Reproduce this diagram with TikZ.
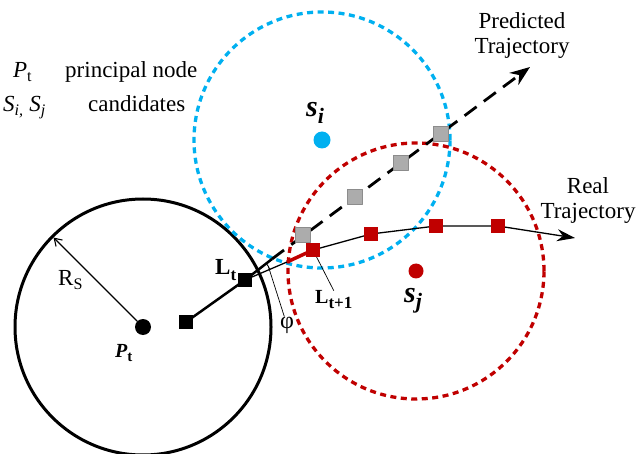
\documentclass[tikz,border=0pt]{standalone}
\usepackage{fontspec}
\setmainfont{Liberation Serif}
\usetikzlibrary{arrows.meta,calc,backgrounds}

\definecolor{candblue}{RGB}{0,176,240}
\definecolor{candred}{RGB}{192,0,0}
\newcommand\lowsub[2]{\raisebox{-0.22em}{\fontsize{#1}{#1}\selectfont #2}}

\begin{document}
\begin{tikzpicture}[x=1pt, y=-1pt, line join=round,
  txt/.style={inner sep=0pt, font=\fontsize{23}{25}\selectfont},
  possq/.style={rectangle, inner sep=0pt, minimum size=14pt},
  graysq/.style={possq, fill=gray!65, draw=gray!90, line width=0.6pt, minimum size=15pt},
  dotnode/.style={circle, inner sep=0pt, minimum size=16pt},
  rangecirc/.style={line width=3.3pt, dash pattern=on 6pt off 4.5pt}]
  \useasboundingbox (0,0) rectangle (637,454);

  % nodes: principal node and candidates
  \node[dotnode, fill=black] (Pt) at (143,327) {};
  \node[dotnode, fill=candblue, minimum size=17pt] (Si) at (322,140) {};
  \node[dotnode, fill=candred, minimum size=15pt] (Sj) at (416,271) {};

  % target positions
  \node[possq, fill=black] (L0) at (186,322) {};
  \node[possq, fill=black] (Lt) at (245,280) {};
  \node[graysq] (G1) at (303,235) {};
  \node[graysq] (G2) at (355,197) {};
  \node[graysq] (G3) at (401,163) {};
  \node[graysq] (G4) at (441,134) {};
  \node[possq, fill=candred] (R1) at (313,250) {};
  \node[possq, fill=candred] (R2) at (371,234) {};
  \node[possq, fill=candred] (R3) at (436,226) {};
  \node[possq, fill=candred] (R4) at (498,226) {};
  \coordinate (V) at (272,259);
  \coordinate (R0) at (287,262);
  \coordinate (PE) at (530,67);
  \coordinate (RE) at (575,238);
  \coordinate (phiarc) at ($(Lt.center)+(30:27pt)$);

  % labels
  \node[txt, anchor=base west] (legP) at (13,78) {\textit{P}\textsubscript{t}};
  \node[txt, anchor=base west] (legPtxt) at (65,78) {principal node};
  \node[txt, anchor=base west] (legS) at (3,112) {\textit{S}\textsubscript{\textit{i,}} \textit{S}\textsubscript{\textit{j}}};
  \node[txt, anchor=base west] (legStxt) at (88,112) {candidates};
  \node[txt, anchor=north, align=center] (pred) at (522,12) {Predicted\\Trajectory};
  \node[txt, anchor=north, align=center] (real) at (588,177) {Real\\Trajectory};
  \node[txt, anchor=base west, font=\fontsize{23}{25}\selectfont\bfseries] (Ltl) at (215,275) {L\lowsub{17}{t}};
  \node[txt, anchor=base west, font=\fontsize{20}{22}\selectfont\bfseries] (Lt1l) at (315,304) {L\lowsub{17}{t+1}};
  \node[txt, anchor=base west, font=\fontsize{20}{22}\selectfont\bfseries\itshape] (Ptl) at (115,357) {P\lowsub{15}{\upshape t}};
  \node[txt, anchor=base west] (Rsl) at (58,286) {R\textsubscript{S}};
  \node[txt, anchor=base west, font=\fontsize{30}{32}\selectfont\bfseries\itshape] (Sil) at (306,117) {s\lowsub{22}{i}};
  \node[txt, anchor=base west, font=\fontsize{30}{32}\selectfont\bfseries\itshape] (Sjl) at (404,302) {s\lowsub{22}{j}};
  \node[txt, font=\fontsize{24}{26}\selectfont] (phi) at (287,325) {φ};

  \begin{scope}[on background layer]
    % sensing ranges
    \draw[line width=3pt] (Pt.center) circle[radius=128pt];
    \draw[rangecirc, candblue] (Si.center) circle[radius=128pt];
    \draw[rangecirc, candred] (Sj.center) circle[radius=128pt];
    \draw[line width=1.1pt, -{Straight Barb[length=7pt,width=9pt]}] (Pt) -- ($(Pt.center)+(135:126.5pt)$);
    % predicted trajectory
    \draw[line width=2.5pt] (L0.center) -- (Lt.center) -- (V);
    \draw[line width=2.8pt, dash pattern=on 15pt off 9pt, -{Stealth[length=20pt,width=15pt]}] (V) -- (PE);
    % real trajectory
    \draw[line width=1.3pt] (Lt.center) -- (R0);
    \draw[line width=3.5pt, candred] (R0) -- (R1.center);
    \draw[line width=1.3pt, -{Stealth[length=18pt,width=12pt]}] (R1.center) -- (R2.center) -- (R3.center) -- (R4.center) -- (RE);
    % angle and leaders
    \draw[line width=0.8pt] ($(Lt.center)+(23:27pt)$) arc[start angle=23, end angle=37, radius=27pt];
    \draw[line width=0.7pt] (phiarc) -- (phi);
    \draw[line width=0.7pt] (R1.center) -- (Lt1l.north);
  \end{scope}
\end{tikzpicture}
\end{document}
